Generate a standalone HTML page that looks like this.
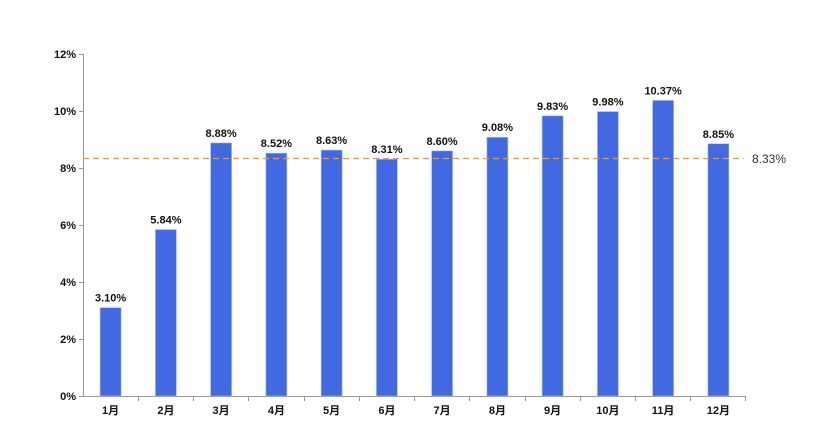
<!DOCTYPE html>
<html><head><meta charset="utf-8"><style>html,body{margin:0;padding:0;background:#fff}svg{display:block}text{font-family:"Liberation Sans","Noto Sans CJK SC",sans-serif;font-weight:bold;font-size:11px;fill:#111}</style></head>
<body>
<svg width="831" height="429" xmlns="http://www.w3.org/2000/svg">
<g stroke="#999" stroke-width="1">
<line x1="83.5" y1="54" x2="83.5" y2="396"/>
<line x1="83" y1="396.5" x2="746" y2="396.5"/>
<line x1="79" x2="83" y1="396.5" y2="396.5"/>
<line x1="79" x2="83" y1="339.5" y2="339.5"/>
<line x1="79" x2="83" y1="282.5" y2="282.5"/>
<line x1="79" x2="83" y1="225.5" y2="225.5"/>
<line x1="79" x2="83" y1="168.5" y2="168.5"/>
<line x1="79" x2="83" y1="111.5" y2="111.5"/>
<line x1="79" x2="83" y1="54.5" y2="54.5"/>
<line x1="138.5" x2="138.5" y1="396" y2="401"/>
<line x1="193.5" x2="193.5" y1="396" y2="401"/>
<line x1="248.5" x2="248.5" y1="396" y2="401"/>
<line x1="304.5" x2="304.5" y1="396" y2="401"/>
<line x1="359.5" x2="359.5" y1="396" y2="401"/>
<line x1="414.5" x2="414.5" y1="396" y2="401"/>
<line x1="469.5" x2="469.5" y1="396" y2="401"/>
<line x1="525.5" x2="525.5" y1="396" y2="401"/>
<line x1="580.5" x2="580.5" y1="396" y2="401"/>
<line x1="635.5" x2="635.5" y1="396" y2="401"/>
<line x1="690.5" x2="690.5" y1="396" y2="401"/>
<line x1="745.5" x2="745.5" y1="396" y2="401"/>
</g>
<g text-anchor="end">
<text x="76" y="400">0%</text>
<text x="76" y="343">2%</text>
<text x="76" y="286">4%</text>
<text x="76" y="229">6%</text>
<text x="76" y="172">8%</text>
<text x="76" y="115">10%</text>
<text x="76" y="58">12%</text>
</g>
<g fill="#4169e1" stroke="#a9bdf0" stroke-width="0.6">
<rect x="100.1" y="307.65" width="21" height="88.35"/>
<rect x="155.4" y="229.56" width="21" height="166.44"/>
<rect x="210.6" y="142.92" width="21" height="253.08"/>
<rect x="265.9" y="153.18" width="21" height="242.82"/>
<rect x="321.1" y="150.04" width="21" height="245.96"/>
<rect x="376.4" y="159.16" width="21" height="236.84"/>
<rect x="431.6" y="150.9" width="21" height="245.1"/>
<rect x="486.9" y="137.22" width="21" height="258.78"/>
<rect x="542.1" y="115.84" width="21" height="280.16"/>
<rect x="597.4" y="111.57" width="21" height="284.43"/>
<rect x="652.6" y="100.45" width="21" height="295.55"/>
<rect x="707.9" y="143.77" width="21" height="252.23"/>
</g>
<g text-anchor="middle">
<text x="110.6" y="301.6">3.10%</text>
<text x="165.9" y="223.5">5.84%</text>
<text x="221.1" y="136.9">8.88%</text>
<text x="276.4" y="147.2">8.52%</text>
<text x="331.6" y="144">8.63%</text>
<text x="386.9" y="153.2">8.31%</text>
<text x="442.1" y="144.9">8.60%</text>
<text x="497.4" y="131.2">9.08%</text>
<text x="552.6" y="109.8">9.83%</text>
<text x="607.9" y="105.6">9.98%</text>
<text x="663.1" y="94.4">10.37%</text>
<text x="718.4" y="137.8">8.85%</text>
<text x="110.6" y="414">1月</text>
<text x="165.9" y="414">2月</text>
<text x="221.1" y="414">3月</text>
<text x="276.4" y="414">4月</text>
<text x="331.6" y="414">5月</text>
<text x="386.9" y="414">6月</text>
<text x="442.1" y="414">7月</text>
<text x="497.4" y="414">8月</text>
<text x="552.6" y="414">9月</text>
<text x="607.9" y="414">10月</text>
<text x="663.1" y="414">11月</text>
<text x="718.4" y="414">12月</text>
</g>
<line x1="83" y1="158.5" x2="744" y2="158.5" stroke="#e39a4f" stroke-width="1.3" stroke-dasharray="6,4"/>
<text x="752" y="163" style="font-weight:normal;font-size:12px;fill:#333">8.33%</text>
</svg>
</body></html>
